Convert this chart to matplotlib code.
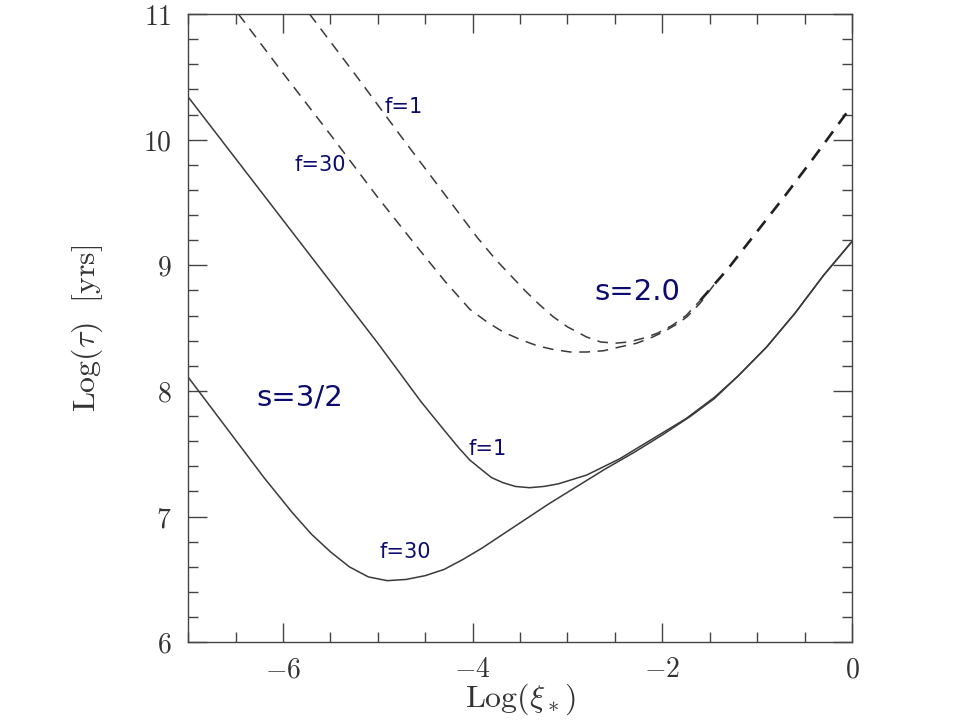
import matplotlib
matplotlib.use("Agg")
import matplotlib.pyplot as plt
from matplotlib.ticker import MultipleLocator

plt.rcParams['mathtext.fontset'] = 'cm'
plt.rcParams['font.family'] = 'serif'
plt.rcParams['font.serif'] = ['DejaVu Serif']

# s=3/2, f=1 (solid)
x_s15_f1 = [-7.0, -6.0, -5.0, -4.55, -4.4, -4.27, -4.15, -4.03, -3.9, -3.8,
            -3.68, -3.55, -3.4, -3.25, -3.1, -2.8, -2.45, -2.1, -1.75, -1.45,
            -1.2, -0.9, -0.6, -0.3, 0.0]
y_s15_f1 = [10.34, 9.36, 8.38, 7.92, 7.78, 7.66, 7.55, 7.45, 7.37, 7.31,
            7.27, 7.24, 7.23, 7.24, 7.26, 7.33, 7.46, 7.62, 7.78, 7.95,
            8.12, 8.35, 8.62, 8.92, 9.19]

# s=3/2, f=30 (solid)
x_s15_f30 = [-7.0, -6.6, -6.2, -5.9, -5.7, -5.5, -5.3, -5.1, -4.9, -4.7, -4.5,
             -4.3, -4.1, -3.9, -3.7, -3.5, -3.2, -2.9, -2.6, -2.3, -2.0, -1.7,
             -1.45, -1.2, -0.9, -0.6, -0.3, 0.0]
y_s15_f30 = [8.11, 7.71, 7.31, 7.03, 6.86, 6.72, 6.60, 6.52, 6.49, 6.50, 6.53,
             6.58, 6.66, 6.75, 6.85, 6.95, 7.10, 7.24, 7.38, 7.51, 7.65, 7.80,
             7.94, 8.12, 8.35, 8.62, 8.92, 9.19]

# s=2.0, f=1 (dashed)
x_s20_f1 = [-5.72, -5.2, -4.7, -4.2, -3.95, -3.75, -3.6, -3.45, -3.3, -3.15,
            -3.0, -2.8, -2.65, -2.5, -2.35, -2.2, -2.05, -1.9, -1.75, -1.6,
            -1.45, -1.3, -1.0, -0.7, -0.4, -0.05]
y_s20_f1 = [11.0, 10.48, 9.97, 9.47, 9.22, 9.04, 8.92, 8.80, 8.69, 8.59,
            8.51, 8.43, 8.39, 8.38, 8.39, 8.42, 8.46, 8.52, 8.60, 8.72,
            8.85, 8.98, 9.27, 9.56, 9.86, 10.22]

# s=2.0, f=30 (dashed, joins f=1 near Log(xi)=-1.5)
x_s20_f30 = [-6.47, -6.0, -5.5, -5.0, -4.6, -4.3, -4.03, -3.85, -3.68, -3.5,
             -3.32, -3.15, -2.97, -2.8, -2.62, -2.45, -2.27, -2.1, -1.99, -1.85,
             -1.74, -1.6, -1.45]
y_s20_f30 = [11.0, 10.53, 10.04, 9.54, 9.16, 8.88, 8.65, 8.55, 8.47, 8.41,
             8.36, 8.33, 8.31, 8.31, 8.32, 8.35, 8.38, 8.43, 8.47, 8.53,
             8.59, 8.70, 8.85]

x_ticks = [-6, -4, -2, 0]
x_ticklabels = [r'$-6$', r'$-4$', r'$-2$', r'$0$']
y_ticks = [6, 7, 8, 9, 10, 11]
y_ticklabels = [r'$6$', r'$7$', r'$8$', r'$9$', r'$10$', r'$11$']

line_col = '#3a3a3a'
lab_col = '#0b0b70'

fig = plt.figure(figsize=(9.6, 7.2), dpi=100)
ax = fig.add_axes([0.196, 0.108, 0.6915, 0.8725])

ax.plot(x_s15_f1, y_s15_f1, color=line_col, lw=1.1)
ax.plot(x_s15_f30, y_s15_f30, color=line_col, lw=1.1)

# the shared right-hand branch of the s=2 curves is drawn heavier
n_join = x_s20_f1.index(-1.6)
ax.plot(x_s20_f1[:n_join + 1], y_s20_f1[:n_join + 1], color=line_col, lw=1.1,
        dashes=(7, 5))
ax.plot(x_s20_f1[n_join:], y_s20_f1[n_join:], color='#202020', lw=1.9,
        dashes=(5, 3.5))
ax.plot(x_s20_f30, y_s20_f30, color=line_col, lw=1.1, dashes=(7, 5))

ax.set_xlim(-7, 0)
ax.set_ylim(6, 11)

ax.set_xticks(x_ticks)
ax.set_xticklabels(x_ticklabels)
ax.set_yticks(y_ticks)
ax.set_yticklabels(y_ticklabels)
ax.xaxis.set_minor_locator(MultipleLocator(0.5))
ax.yaxis.set_minor_locator(MultipleLocator(0.2))
ax.tick_params(which='both', direction='in', top=True, right=True,
               color='#444444', width=1.0)
ax.tick_params(which='major', length=14, labelsize=20, labelcolor='#333333')
ax.tick_params(which='minor', length=7.5)
ax.tick_params(axis='x', which='major', pad=10)
ax.tick_params(axis='y', which='major', pad=12)
for sp in ax.spines.values():
    sp.set_color('#444444')
    sp.set_linewidth(1.0)

ax.set_xlabel(r'$\mathrm{Log}(\xi_*)$', fontsize=23, color='#333333')
ax.set_ylabel(r'$\mathrm{Log}(\tau)\ \ [\mathrm{yrs}]$', fontsize=23,
              color='#333333')
ax.xaxis.set_label_coords(0.5, -0.062)
ax.yaxis.set_label_coords(-0.125, 0.5)

lab_font = dict(color=lab_col, family='DejaVu Sans', ha='center', va='center')
ax.text(-4.73, 10.26, 'f=1', fontsize=15, **lab_font)
ax.text(-5.61, 9.80, 'f=30', fontsize=15, **lab_font)
ax.text(-2.26, 8.79, 's=2.0', fontsize=21, **lab_font)
ax.text(-5.82, 7.95, 's=3/2', fontsize=21, **lab_font)
ax.text(-3.84, 7.54, 'f=1', fontsize=15, **lab_font)
ax.text(-4.71, 6.72, 'f=30', fontsize=15, **lab_font)

fig.savefig('out.png', dpi=100)
